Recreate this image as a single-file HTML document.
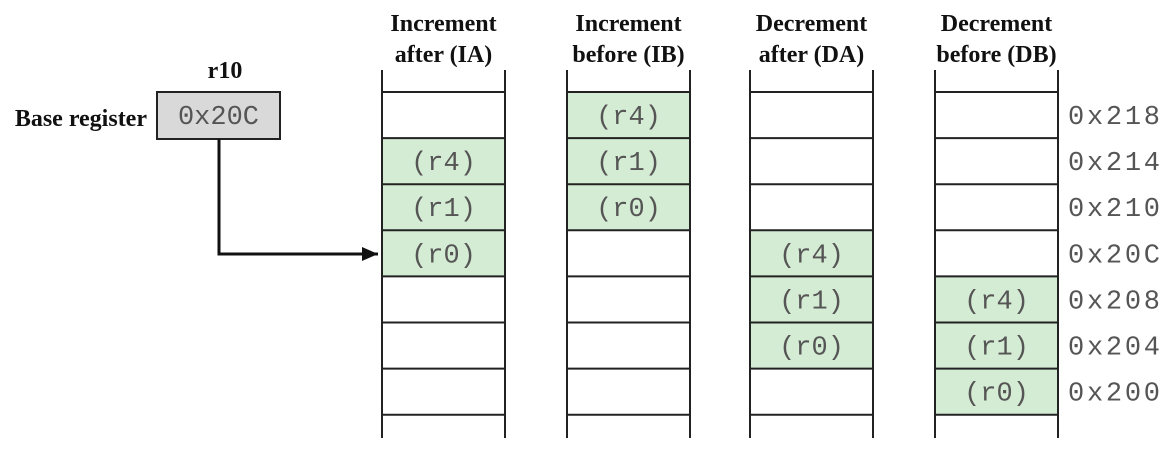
<!DOCTYPE html>
<html><head><meta charset="utf-8"><style>
body{margin:0;background:#fff;}
svg{display:block;}
.hdr{font-family:"Liberation Serif",serif;font-weight:bold;font-size:24px;fill:#111;}
.mono{font-family:"Liberation Mono",monospace;font-size:27px;fill:#555;}
</style></head><body>
<svg id="chart" width="1169" height="453" viewBox="0 0 1169 453">
<defs><marker id="ah" markerWidth="16" markerHeight="14" refX="16" refY="7" orient="auto" markerUnits="userSpaceOnUse"><path d="M0,0 L16,7 L0,14 z" fill="#111"/></marker></defs>
<text class="hdr" x="225" y="78" text-anchor="middle">r10</text>
<text class="hdr" x="147" y="126" text-anchor="end">Base register</text>
<rect x="157" y="92" width="123" height="47" fill="#d9d9d9" stroke="#222" stroke-width="2"/>
<text class="mono" x="218.5" y="124" text-anchor="middle">0x20C</text>
<path d="M219 139 V254 H378" fill="none" stroke="#111" stroke-width="3" marker-end="url(#ah)"/>
<g id="cols"></g>
</svg>
<script>
const modes = ["Increment|after (IA)","Increment|before (IB)","Decrement|after (DA)","Decrement|before (DB)"];
const addresses = ["0x218","0x214","0x210","0x20C","0x208","0x204","0x200"];
const regsIA = [null,"(r4)","(r1)","(r0)",null,null,null];
const regsIB = ["(r4)","(r1)","(r0)",null,null,null,null];
const regsDA = [null,null,null,"(r4)","(r1)","(r0)",null];
const regsDB = [null,null,null,null,"(r4)","(r1)","(r0)"];
const series=[regsIA,regsIB,regsDA,regsDB];
const NS="http://www.w3.org/2000/svg";
const g=document.getElementById('cols');
const colX=i=>[382,567,750,935][i];
const colW=123, rowTop=92, rowH=46.1;
const rowY=k=>rowTop+k*rowH;
function mk(t,a){const e=document.createElementNS(NS,t);for(const k in a)e.setAttribute(k,a[k]);g.appendChild(e);return e;}
series.forEach((s,i)=>{
  const x=colX(i);
  const [l1,l2]=modes[i].split('|');
  const t1=mk('text',{class:'hdr',x:x+colW/2,y:31,'text-anchor':'middle'});t1.textContent=l1;
  
  
  const t2=mk('text',{class:'hdr',x:x+colW/2,y:62,'text-anchor':'middle'});t2.textContent=l2;
  
  
  s.forEach((v,k)=>{
    if(v){
      const r=mk('rect',{x:x,y:rowY(k),width:colW,height:rowH,fill:'#d5ecd4'});
      
      
      const t=mk('text',{class:'mono',x:x+colW/2,y:rowY(k)+32,'text-anchor':'middle'});t.textContent=v;
      
      
    }
  });
  for(let k=0;k<=7;k++){
    const h=mk('line',{x1:x,x2:x+colW,y1:rowY(k),y2:rowY(k),stroke:'#222','stroke-width':2});
    
    
  }
  [x,x+colW].forEach(xx=>{
    const v=mk('line',{x1:xx,x2:xx,y1:70,y2:438,stroke:'#222','stroke-width':2});
    
    
  });
});
addresses.forEach((a,k)=>{
  const t=mk('text',{class:'mono',x:1068,y:rowY(k)+32,'font-size':'28','textLength':'92'});t.textContent=a;
  
  
});
</script>
</body></html>
